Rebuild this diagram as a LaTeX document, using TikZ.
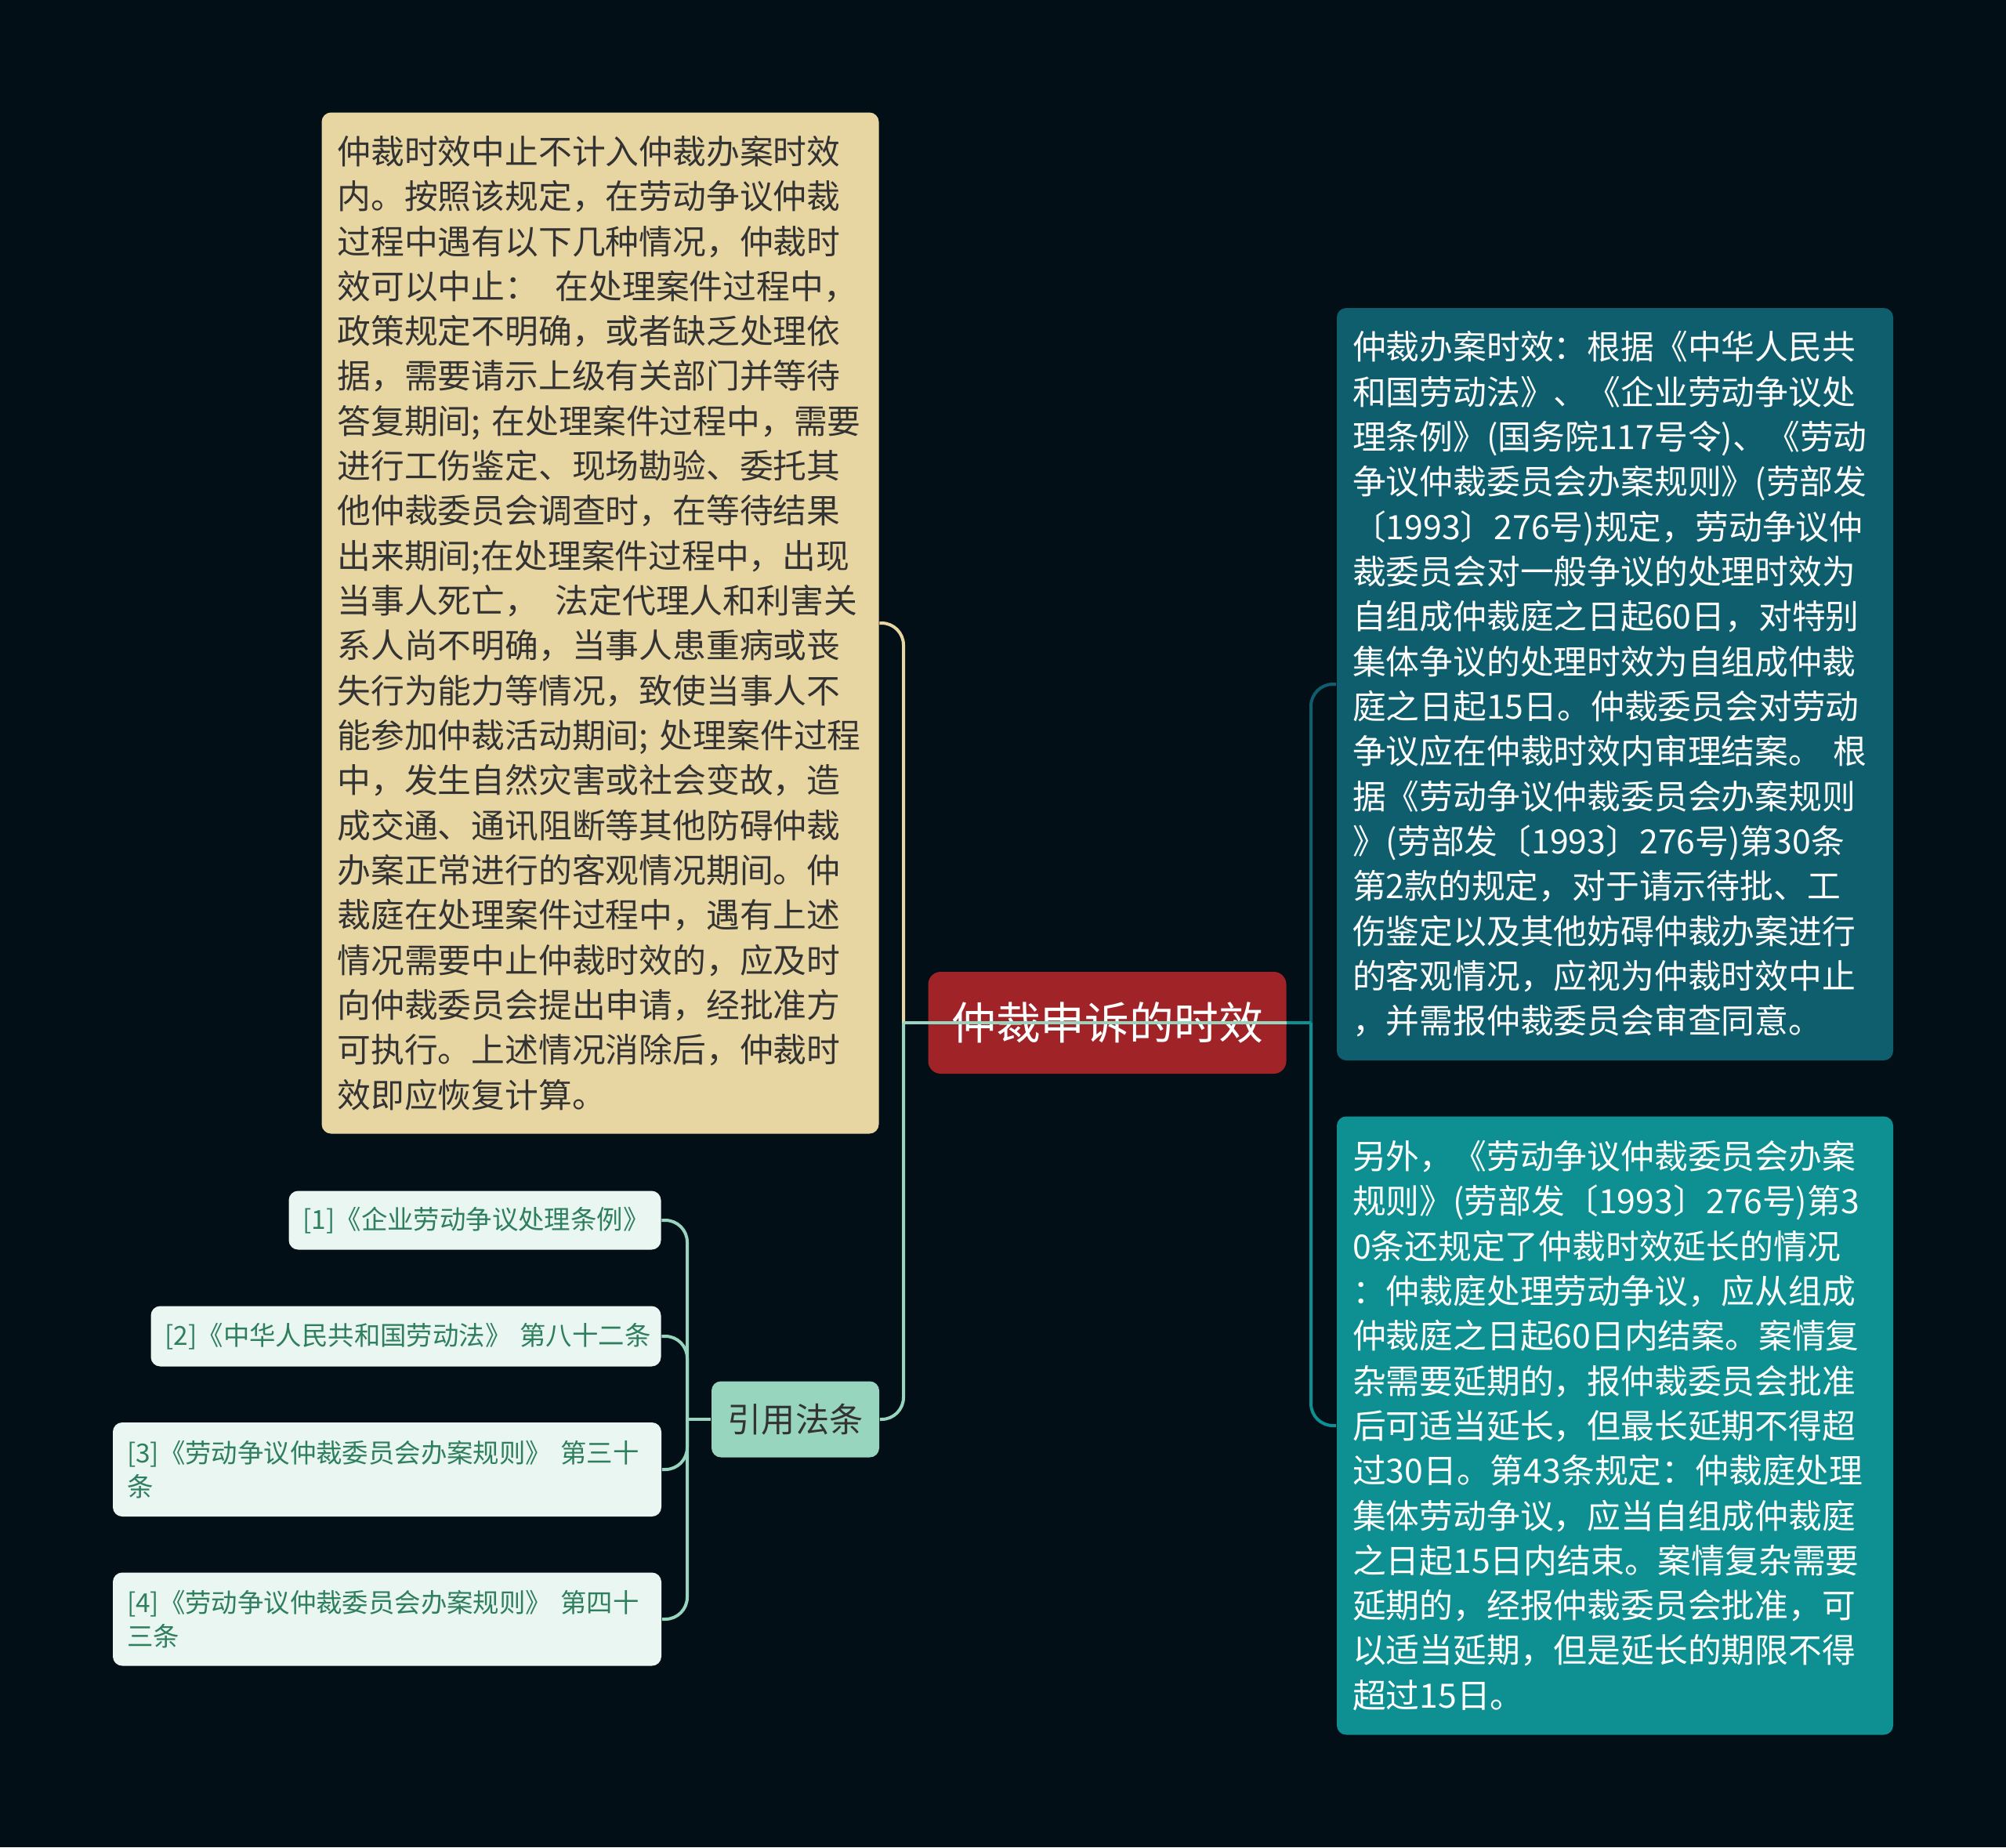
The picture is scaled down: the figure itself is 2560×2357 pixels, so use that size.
\documentclass[tikz,border=0pt]{standalone}
\usepackage{fontspec}
\setmainfont{Noto Sans CJK SC}
\usepackage{xcolor}
\usepackage{tikz}

\definecolor{bgdark}{HTML}{030F17}
\definecolor{tanfill}{HTML}{E8D6A2}
\definecolor{rootred}{HTML}{A02328}
\definecolor{tealdark}{HTML}{0F5E6E}
\definecolor{tealmid}{HTML}{0E9093}
\definecolor{mint}{HTML}{97D5BF}
\definecolor{mintpale}{HTML}{E9F6F1}
\definecolor{citegreen}{HTML}{2F7F5F}
\definecolor{inkdark}{HTML}{333333}

\begin{document}
\begin{tikzpicture}[x=0.25pt,y=-0.25pt,
    box/.style={shape=rectangle,rounded corners=3pt,inner xsep=5pt,inner ysep=0pt,align=left},
    bigtext/.style={font={\fontsize{10.7pt}{14.33pt}\selectfont}},
    reftext/.style={font={\fontsize{8.35pt}{10.6pt}\selectfont},text=citegreen,fill=mintpale,inner xsep=4.5pt},
    link/.style={line width=1pt,rounded corners=7pt}]
        \fill[bgdark] (0,0) rectangle (2560,2357);
        \useasboundingbox (0,0) rectangle (2560,2357);

        % main topic
        \node[box,fill=rootred,text=white,rounded corners=4pt,minimum width=114.25pt,minimum height=32.5pt,
              font={\fontsize{14.2pt}{16pt}\selectfont}] (root) at (1413,1305) {仲裁申诉的时效};

        % left branch
        \node[box,bigtext,fill=tanfill,text=inkdark,text width=167.75pt,minimum height=325.75pt] (halt) at (766,795) {仲裁时效中止不计入仲裁办案时效\\
内。按照该规定，在劳动争议仲裁\\
过程中遇有以下几种情况，仲裁时\\
效可以中止：\hspace{0.5em}在处理案件过程中，\\
政策规定不明确，或者缺乏处理依\\
据，需要请示上级有关部门并等待\\
答复期间; 在处理案件过程中，需要\\
进行工伤鉴定、现场勘验、委托其\\
他仲裁委员会调查时，在等待结果\\
出来期间;在处理案件过程中，出现\\
当事人死亡，\hspace{0.5em}法定代理人和利害关\\
系人尚不明确，当事人患重病或丧\\
失行为能力等情况，致使当事人不\\
能参加仲裁活动期间; 处理案件过程\\
中，发生自然灾害或社会变故，造\\
成交通、通讯阻断等其他防碍仲裁\\
办案正常进行的客观情况期间。仲\\
裁庭在处理案件过程中，遇有上述\\
情况需要中止仲裁时效的，应及时\\
向仲裁委员会提出申请，经批准方\\
可执行。上述情况消除后，仲裁时\\
效即应恢复计算。};
        \node[box,fill=mint,text=inkdark,minimum width=53.5pt,minimum height=24.25pt,align=center,
              font={\fontsize{10.8pt}{13pt}\selectfont}] (cite) at (1015,1811) {引用法条};

        % references
        \node[box,reftext,text width=109.75pt,minimum height=18.75pt] (ref1) at (606,1557) {[1]《企业劳动争议处理条例》};
        \node[box,reftext,text width=153.75pt,minimum height=19.25pt] (ref2) at (518,1705) {\mbox{[2]《中华人民共和国劳动法》 第八十二条}};
        \node[box,reftext,text width=166pt,minimum height=30pt] (ref3) at (494,1875) {[3]《劳动争议仲裁委员会办案规则》 第三十\\条};
        \node[box,reftext,text width=166pt,minimum height=29.75pt] (ref4) at (494,2066) {[4]《劳动争议仲裁委员会办案规则》 第四十\\三条};

        % right branch
        \node[box,bigtext,fill=tealdark,text=white,text width=167.5pt,minimum height=240pt] (limit) at (2061,873) {仲裁办案时效：根据《中华人民共\\
和国劳动法》、《企业劳动争议处\\
理条例》(国务院117号令)、《劳动\\
争议仲裁委员会办案规则》(劳部发\\
〔1993〕276号)规定，劳动争议仲\\
裁委员会对一般争议的处理时效为\\
自组成仲裁庭之日起60日，对特别\\
集体争议的处理时效为自组成仲裁\\
庭之日起15日。仲裁委员会对劳动\\
争议应在仲裁时效内审理结案。 根\\
据《劳动争议仲裁委员会办案规则\\
》(劳部发〔1993〕276号)第30条\\
第2款的规定，对于请示待批、工\\
伤鉴定以及其他妨碍仲裁办案进行\\
的客观情况，应视为仲裁时效中止\\
，并需报仲裁委员会审查同意。};
        \node[box,bigtext,fill=tealmid,text=white,text width=167.5pt,minimum height=197.25pt] (extend) at (2061,1819) {另外，《劳动争议仲裁委员会办案\\
规则》(劳部发〔1993〕276号)第3\\
0条还规定了仲裁时效延长的情况\\
：仲裁庭处理劳动争议，应从组成\\
仲裁庭之日起60日内结案。案情复\\
杂需要延期的，报仲裁委员会批准\\
后可适当延长，但最长延期不得超\\
过30日。第43条规定：仲裁庭处理\\
集体劳动争议，应当自组成仲裁庭\\
之日起15日内结束。案情复杂需要\\
延期的，经报仲裁委员会批准，可\\
以适当延期，但是延长的期限不得\\
超过15日。};

        \coordinate (jl) at (1153,1305);
        \coordinate (jr) at (1673,1305);
        \coordinate (jc) at (877,1811);

        % connectors
        \draw[link,draw=tanfill] (halt.east) -| (jl);
        \draw[link,draw=mint] (cite.east) -| (jl);
        \draw[line width=1pt,draw=mint] (jl) -- (root.east);
        \draw[link,draw=tealdark] (limit.west) -| (jr);
        \draw[link,draw=tealmid] (extend.west) -| (jr);
        \draw[line width=1pt,draw=tealmid] (jr) -- (root.east);

        \draw[link,draw=mint] (ref1.east) -| (jc);
        \draw[link,draw=mint] (ref2.east) -| (jc);
        \draw[link,draw=mint] (ref3.east) -| (jc);
        \draw[link,draw=mint] (ref4.east) -| (jc);
        \draw[line width=1pt,draw=mint] (jc) -- (cite.west);
    \end{tikzpicture}
\end{document}
